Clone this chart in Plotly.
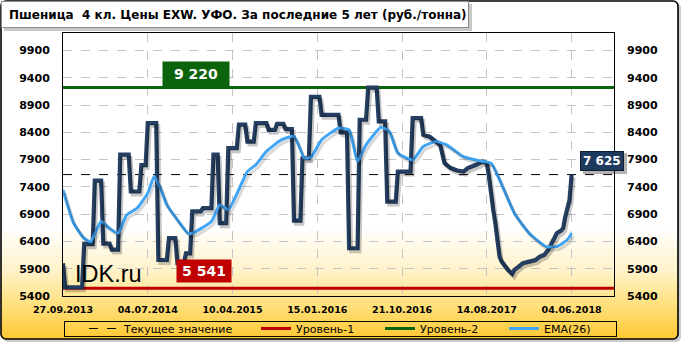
import base64
import plotly.graph_objects as go

# ---------------- data ----------------
tick_labels = ["27.09.2013", "04.07.2014", "10.04.2015", "15.01.2016",
               "21.10.2016", "14.08.2017", "04.06.2018"]
tick_idx = [0, 40, 80, 120, 160, 200, 240]
n_slots = 260

price_idx = [0, 1, 9, 10, 14, 15, 18, 19, 22, 23, 26, 27, 31, 32, 36, 37, 39, 40, 44, 45,
             49, 50, 53, 54, 57, 58, 60, 61, 65, 66, 70, 71, 73, 74, 77, 78, 82, 83, 86, 87,
             90, 91, 96, 97, 100, 101, 104, 105, 108, 109, 112, 113, 116, 117, 121, 122, 130, 131, 134, 135,
             139, 140, 143, 144, 148, 149, 152, 153, 157, 158, 164, 165, 169, 170, 173, 176, 178, 180, 183, 186,
             189, 191, 193, 195, 198, 200, 201, 202, 203, 204, 205, 206, 207, 208, 210, 212, 213, 215, 217, 220,
             223, 225, 227, 229, 231, 233, 235, 236, 237, 238, 239, 240]
price_val = [6000, 5560, 5560, 6350, 6350, 7515, 7515, 6360, 6360, 6250, 6250, 7990, 7990, 7315, 7315, 7800, 7800, 8570, 8570, 6060,
             6060, 6460, 6460, 6000, 6000, 6180, 6180, 6950, 6950, 7010, 7010, 7990, 7990, 6735, 6735, 8110, 8110, 8540, 8540, 8230,
             8230, 8570, 8570, 8445, 8445, 8555, 8555, 8460, 8460, 6780, 6780, 7925, 7925, 9050, 9050, 8720, 8720, 8400, 8400, 6275,
             6275, 8630, 8630, 9220, 9220, 8600, 8600, 7130, 7130, 7680, 7680, 8660, 8660, 8355, 8320, 8230, 8170, 7835, 7745, 7700,
             7680, 7745, 7770, 7805, 7865, 7835, 7590, 7220, 6980, 6735, 6430, 6120, 6030, 5970, 5880, 5805, 5880, 5940, 6000, 6030,
             6060, 6120, 6150, 6245, 6395, 6550, 6600, 6640, 6855, 7000, 7160, 7625]

ema_idx = [0, 5, 10, 13, 18, 22, 26, 30, 35, 40, 43, 46, 49, 54, 59, 61, 70, 74, 78, 87,
           91, 96, 103, 109, 114, 117, 122, 130, 135, 139, 143, 150, 154, 158, 165, 170, 176, 181, 189, 198,
           202, 206, 213, 220, 228, 233, 238, 240]
ema_val = [7345, 6735, 6460, 6395, 6765, 6640, 6550, 6885, 7010, 7285, 7590, 7375, 7070, 6795, 6550, 6550, 6765, 7070, 6980, 7680,
           7805, 8050, 8260, 8325, 7925, 7945, 8260, 8475, 8445, 7865, 8170, 8490, 8415, 8020, 7895, 8140, 8230, 8170, 7955, 7865,
           7835, 7530, 6915, 6550, 6305, 6305, 6430, 6550]

current_value = 7625
level1 = 5541
level2 = 9220
y_ticks = [5400, 5900, 6400, 6900, 7400, 7900, 8400, 8900, 9400, 9900]
y_ticktext = [str(v) for v in y_ticks]
y_range = [5400, 10220]

legend_names = ["Текущее значение", "Уровень-1", "Уровень-2", "EMA(26)"]
title_text = "Пшеница\u00a0 4 кл. Цены EXW. УФО. За последние 5 лет (руб./тонна)"

# ---------------- layout helpers ----------------
W, H = 681, 342
L, R, T, B = 63, 67, 33, 46
PW, PH = W - L - R, H - T - B


def px(x):
    return (x - L) / PW


def py(y):
    return (H - B - y) / PH


def fmt(v):
    return f"{v:,}".replace(",", " ")


DARK = "#243F62"
EMA_C = "#41A5F5"
RED = "#C00000"
GREEN = "#0B640B"
FONT = "DejaVu Sans"

# shadow offsets (px) converted through axis scales
sdx = 2 * n_slots / PW
sdy = 3 * (y_range[1] - y_range[0]) / PH

fig = go.Figure()
full_x = [0, n_slots]

# base subplot: levels and current value
fig.add_trace(go.Scatter(x=full_x, y=[current_value] * 2, mode="lines", name=legend_names[0],
                         line=dict(color="black", width=1, dash="dash"), legendrank=1,
                         legendwidth=127, hoverinfo="skip"))
fig.add_trace(go.Scatter(x=full_x, y=[level1] * 2, mode="lines", name=legend_names[1],
                         line=dict(color=RED, width=3), legendrank=2, legendwidth=79, hoverinfo="skip"))
fig.add_trace(go.Scatter(x=full_x, y=[level2] * 2, mode="lines", name=legend_names[2],
                         line=dict(color=GREEN, width=3), legendrank=3, legendwidth=79, hoverinfo="skip"))

# shadows on shifted overlay axes
fig.add_trace(go.Scatter(x=price_idx, y=price_val, mode="lines", xaxis="x2", yaxis="y2",
                         line=dict(color="rgba(0,0,0,0.22)", width=4), showlegend=False, hoverinfo="skip"))
fig.add_trace(go.Scatter(x=ema_idx, y=ema_val, mode="lines", xaxis="x2", yaxis="y2",
                         line=dict(color="rgba(0,0,0,0.15)", width=3, shape="spline", smoothing=0.5),
                         showlegend=False, hoverinfo="skip"))

# main lines on right-hand axis (same scale)
fig.add_trace(go.Scatter(x=price_idx, y=price_val, mode="lines", yaxis="y3",
                         line=dict(color=DARK, width=4.2), showlegend=False, hoverinfo="skip"))
fig.add_trace(go.Scatter(x=ema_idx, y=ema_val, mode="lines", yaxis="y3", name=legend_names[3],
                         line=dict(color=EMA_C, width=3, shape="spline", smoothing=0.5),
                         legendrank=4, legendwidth=79, hoverinfo="skip"))

# background decoration (gradient, frame, title box, legend box)
svg = f'''<svg xmlns="http://www.w3.org/2000/svg" width="{W}" height="{H}" viewBox="0 0 {W} {H}">
<defs><linearGradient id="g" x1="0" y1="0" x2="0" y2="1">
<stop offset="0" stop-color="#FFFFFF"/>
<stop offset="0.67" stop-color="#FFFFFF"/>
<stop offset="0.8" stop-color="#FFF2C8"/>
<stop offset="0.9" stop-color="#FFE07C"/>
<stop offset="1" stop-color="#FFC832"/>
</linearGradient></defs>
<rect x="0" y="0" width="{W}" height="{H}" fill="#FFFFFF"/>
<rect x="3" y="3" width="{W-3}" height="{H-3}" rx="5" fill="#A8A8A8" opacity="0.6"/>
<rect x="1" y="1" width="{W-4}" height="{H-4}" rx="5" fill="url(#g)" stroke="#000" stroke-width="1.6"/>
<rect x="4" y="4" width="468" height="27" fill="#9A9A9A" opacity="0.55"/>
<rect x="1.5" y="1.5" width="467" height="26" fill="#FFFFFF" stroke="#8A8A8A" stroke-width="1"/>
<rect x="64.5" y="321.5" width="552" height="15" fill="none" stroke="#000" stroke-width="1"/>
</svg>'''
src = "data:image/svg+xml;base64," + base64.b64encode(svg.encode("utf-8")).decode("ascii")

axis_font = dict(family=FONT, size=11, color="black", weight="bold")

fig.update_layout(
    width=W, height=H,
    margin=dict(l=L, r=R, t=T, b=B, autoexpand=False),
    paper_bgcolor="rgba(0,0,0,0)", plot_bgcolor="rgba(0,0,0,0)",
    images=[dict(source=src, xref="paper", yref="paper", x=px(0), y=py(0),
                 sizex=W / PW, sizey=H / PH, xanchor="left", yanchor="top",
                 sizing="stretch", layer="below")],
    xaxis=dict(range=[0, n_slots], tickvals=tick_idx, ticktext=tick_labels,
               showgrid=True, gridcolor="#C4C4C4", griddash="dash", gridwidth=1,
               zeroline=False, showline=True, linecolor="black", linewidth=1, mirror=True,
               ticks="", ticklabelstandoff=5,
               tickfont=dict(family=FONT, size=9.5, color="black", weight="bold")),
    yaxis=dict(range=y_range, tickvals=y_ticks, ticktext=y_ticktext, showgrid=True, gridcolor="#C4C4C4",
               griddash="dash", gridwidth=1, zeroline=False, showline=True, linecolor="black",
               linewidth=1, mirror=True, ticks="", ticklabelstandoff=10, tickfont=axis_font),
    xaxis2=dict(range=[-sdx, n_slots - sdx], overlaying="x", visible=False),
    yaxis2=dict(range=[y_range[0] + sdy, y_range[1] + sdy], overlaying="y", anchor="x2", visible=False),
    yaxis3=dict(range=y_range, tickvals=y_ticks, ticktext=y_ticktext, overlaying="y", side="right",
                anchor="x", showgrid=False, zeroline=False, showline=False, ticks="",
                ticklabelstandoff=12, tickfont=axis_font),
    legend=dict(orientation="h", xref="container", yref="container", x=84 / W, y=(H - 314) / H,
                xanchor="left", yanchor="top", bgcolor="rgba(0,0,0,0)", borderwidth=0,
                font=dict(family=FONT, size=11, color="black"), itemwidth=30),
    showlegend=True,
    shapes=[dict(type="rect", xref="paper", yref="paper", x0=px(583), x1=px(627),
                 y0=py(153), y1=py(174), fillcolor="rgba(0,0,0,0.3)", line=dict(width=0),
                 layer="above")],
)

ann = []
# title
ann.append(dict(text=title_text, xref="paper", yref="paper", x=px(7), y=py(15), xanchor="left",
                yanchor="middle", showarrow=False,
                font=dict(family=FONT, size=12, color="black", weight="bold")))
# watermark
ann.append(dict(text="IDK.ru", xref="paper", yref="paper", x=px(73), y=py(274), xanchor="left",
                yanchor="middle", showarrow=False,
                font=dict(family="Liberation Sans", size=23.5, color="black")))
# level labels
ann.append(dict(text=fmt(level2), xref="paper", yref="y", x=px(196), y=level2, xanchor="center",
                yanchor="bottom", yshift=1, showarrow=False, bgcolor=GREEN, borderpad=4, width=58,
                font=dict(family=FONT, size=14, color="white", weight="bold")))
ann.append(dict(text=fmt(level1), xref="paper", yref="y", x=px(204), y=level1, xanchor="center",
                yanchor="bottom", yshift=5, showarrow=False, bgcolor=RED, borderpad=3, width=48,
                font=dict(family=FONT, size=14, color="white", weight="bold")))
# current value label
ann.append(dict(text=fmt(current_value), xref="paper", yref="y", x=px(602), y=current_value,
                xanchor="center", yanchor="bottom", yshift=4, showarrow=False,
                bgcolor="#1F3A5F", bordercolor="#0E1E33", borderwidth=1, borderpad=2,
                font=dict(family=FONT, size=12, color="white", weight="bold")))
fig.update_layout(annotations=ann)

fig.write_html("out.html")
